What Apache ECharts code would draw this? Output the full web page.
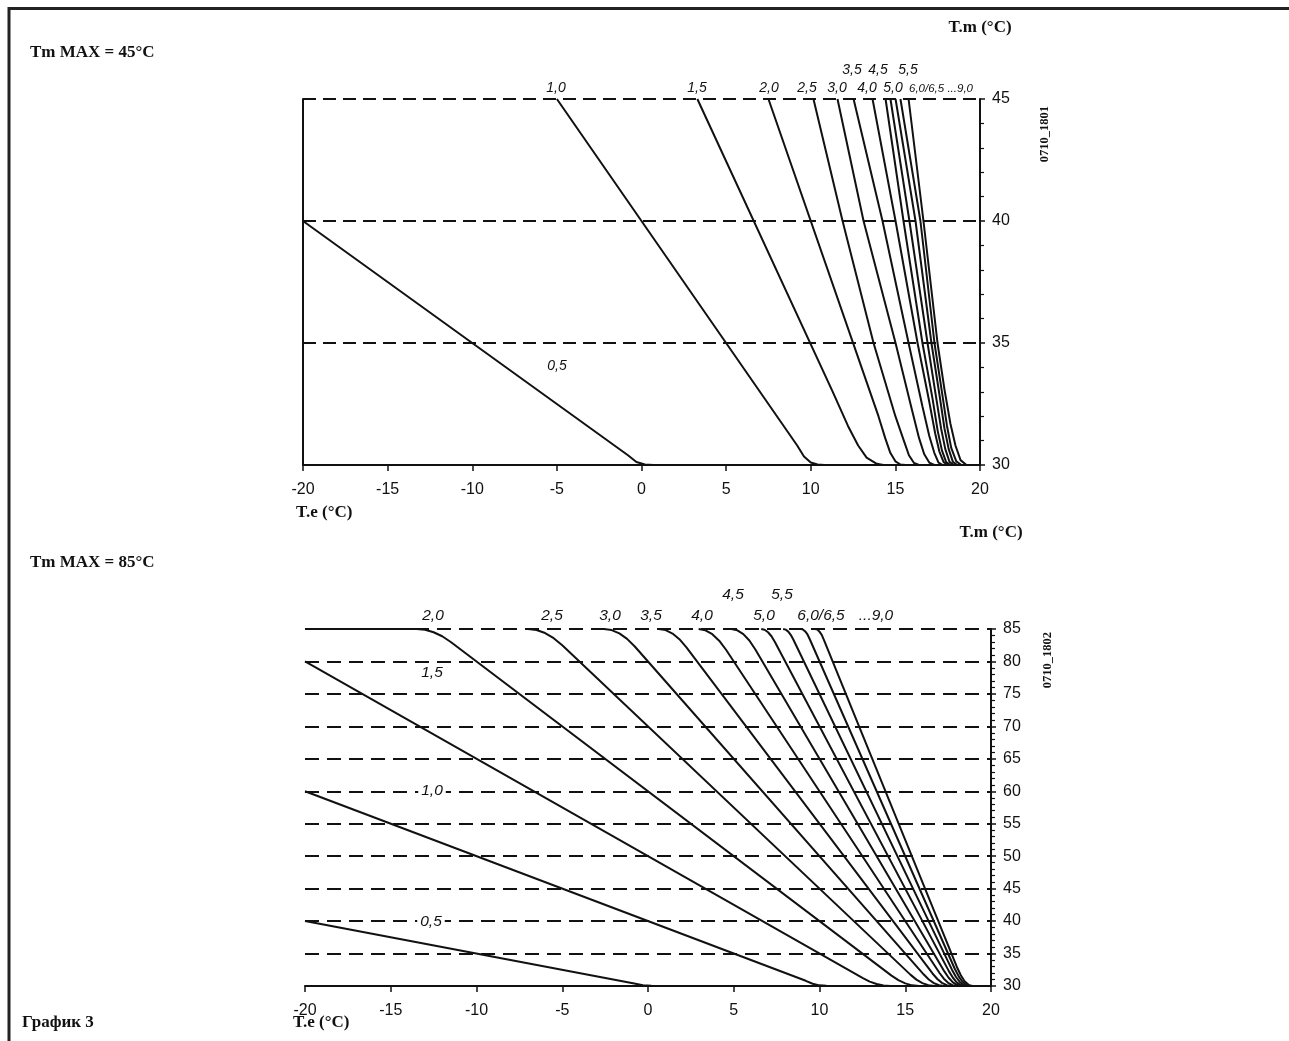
<!DOCTYPE html>
<html><head><meta charset="utf-8">
<script src="https://cdn.jsdelivr.net/npm/echarts@6/dist/echarts.min.js"></script>
<style>html,body{margin:0;padding:0;background:#fff}#c{width:1289px;height:1041px}</style>
</head><body><div id="c"></div>
<script>
// ---- Data (Te °C, Tm °C) ----
// Chart 1: Tm MAX = 45°C
const topCurveNames = ['0,5','1,0','1,5','2,0','2,5','3,0','3,5','4,0','4,5','5,0','5,5','6,0','6,5'];
const t05 = [[-20,40],[-0.8,30.4],[-0.3,30.12],[0.2,30.02],[0.7,30]];
const t10 = [[-5,45],[9.2,30.8],[9.6,30.35],[10,30.1],[10.4,30.02],[10.8,30]];
const t15 = [[3.3,45],[11.3,33],[12.2,31.6],[12.8,30.8],[13.3,30.3],[13.9,30.05],[14.3,30]];
const t20 = [[7.5,45],[14.0,32],[14.4,31.1],[14.7,30.5],[15.0,30.15],[15.3,30.02],[15.6,30]];
const t25 = [[10.16,45],[11.88,40],[13.71,35],[15.0,32],[15.5,31],[15.8,30.4],[16.1,30.08],[16.4,30]];
const t30 = [[11.58,45],[13.12,40],[15.01,35],[16.0,32.2],[16.4,31.1],[16.7,30.45],[17.0,30.1],[17.3,30]];
const t35 = [[12.53,45],[14.24,40],[15.78,35],[16.6,32.4],[17.0,31.2],[17.3,30.5],[17.55,30.1],[17.8,30]];
const t40 = [[13.65,45],[15.01,40],[16.31,35],[17.0,32.6],[17.35,31.3],[17.6,30.55],[17.85,30.12],[18.1,30]];
const t45 = [[14.42,45],[15.48,40],[16.6,35],[17.2,32.7],[17.5,31.4],[17.75,30.6],[18.0,30.12],[18.25,30]];
const t50 = [[14.71,45],[15.83,40],[16.9,35],[17.4,32.8],[17.7,31.5],[17.95,30.65],[18.2,30.13],[18.45,30]];
const t55 = [[15.01,45],[16.19,40],[17.13,35],[17.6,32.9],[17.9,31.5],[18.15,30.65],[18.4,30.13],[18.65,30]];
const t60 = [[15.30,45],[16.48,40],[17.31,35],[17.75,33],[18.05,31.6],[18.3,30.7],[18.6,30.15],[18.9,30]];
const t65 = [[15.78,45],[16.66,40],[17.49,35],[17.9,33.1],[18.25,31.7],[18.55,30.8],[18.85,30.2],[19.2,30]];
const topCurves = [t05,t10,t15,t20,t25,t30,t35,t40,t45,t50,t55,t60,t65];

// Chart 2: Tm MAX = 85°C
const bottomCurveNames = ['0,5','1,0','1,5','2,0','2,5','3,0','3,5','4,0','4,5','5,0','5,5','6,0','6,5'];
const b05 = [[-20,40],[-0.8,30.4],[-0.3,30.12],[0.2,30.02],[0.7,30]];
const b10 = [[-20,60],[9.2,30.8],[9.6,30.35],[10.0,30.1],[10.4,30.02],[10.8,30]];
const b15 = [[-20,80],[12.53,31.2],[12.93,30.68],[13.33,30.3],[13.73,30.08],[14.13,30]];
const b20 = [[-20,85],[-13.5,85],[-13,84.88],[-12.5,84.5],[-12,83.88],[-11.5,83],[14.2,31.6],[14.6,30.9],[15,30.4],[15.4,30.1],[15.8,30]];
const b25 = [[-7,85],[-6.5,84.84],[-6,84.38],[-5.5,83.59],[-5,82.5],[15.3,31.75],[15.65,30.98],[16,30.44],[16.35,30.11],[16.7,30]];
const b30 = [[-2.57,85],[-2.12,84.83],[-1.67,84.33],[-1.22,83.48],[-0.77,82.3],[16.07,31.8],[16.37,31.01],[16.67,30.45],[16.97,30.11],[17.27,30]];
const b35 = [[0.63,85],[1.03,84.83],[1.43,84.3],[1.83,83.43],[2.23,82.2],[16.59,31.93],[16.87,31.08],[17.14,30.48],[17.42,30.12],[17.69,30]];
const b40 = [[2.95,85],[3.35,84.8],[3.75,84.2],[4.15,83.2],[4.55,81.8],[17,32],[17.25,31.13],[17.5,30.5],[17.75,30.13],[18,30]];
const b45 = [[4.86,85],[5.21,84.8],[5.56,84.21],[5.91,83.23],[6.26,81.85],[17.28,32.25],[17.53,31.27],[17.78,30.56],[18.03,30.14],[18.28,30]];
const b50 = [[6.6,85],[6.8,84.88],[7,84.5],[7.2,83.88],[7.4,83],[17.55,32.25],[17.78,31.27],[18,30.56],[18.23,30.14],[18.45,30]];
const b55 = [[7.88,85],[8.03,84.9],[8.18,84.59],[8.33,84.07],[8.48,83.35],[17.73,32.48],[17.96,31.39],[18.18,30.62],[18.41,30.15],[18.63,30]];
const b60 = [[8.92,85],[9.05,84.9],[9.17,84.63],[9.3,84.16],[9.42,83.5],[17.88,32.7],[18.11,31.52],[18.33,30.68],[18.56,30.17],[18.78,30]];
const b65 = [[9.75,85],[9.88,84.9],[10,84.59],[10.13,84.09],[10.25,83.37],[18.01,32.93],[18.24,31.65],[18.46,30.73],[18.69,30.18],[18.91,30]];
const bottomCurves = [b05,b10,b15,b20,b25,b30,b35,b40,b45,b50,b55,b60,b65];

// Axis settings
const teMin = -20, teMax = 20, teStep = 5;
const top_tmMin = 30, top_tmMax = 45;
const bot_tmMin = 30, bot_tmMax = 85;
const tmStep = 5;

// Curve labels (text)
const topLabels = ['1,0','1,5','2,0','2,5','3,0','4,0','5,0','3,5','4,5','5,5','6,0/6,5 ...9,0','0,5'];
const bottomLabels = ['2,0','2,5','3,0','3,5','4,0','5,0','4,5','5,5','6,0/6,5','...9,0','1,5','1,0','0,5'];

// ---- Rendering ----
const chart = echarts.init(document.getElementById('c'), null, {renderer:'canvas'});
const SANS = '"Liberation Sans", Arial, sans-serif';
const SERIF = '"Liberation Serif", "Times New Roman", serif';
const INK = '#111';

function xAxisCfg(gi, margin){
  return {
    gridIndex: gi, type:'value', min: teMin, max: teMax, interval: teStep,
    axisLine:{show:true, onZero:false, lineStyle:{color:INK, width:2}},
    axisTick:{show:true, inside:false, length:6, lineStyle:{color:INK, width:1.5}},
    axisLabel:{color:INK, fontFamily:SANS, fontSize:16, margin:margin},
    splitLine:{show:false}
  };
}
function yAxisRight(gi, min, max, dash){
  return {
    gridIndex: gi, type:'value', position:'right', min, max, interval: tmStep,
    axisLine:{show:true, onZero:false, lineStyle:{color:INK, width:2}},
    axisTick:{show:true, inside:false, length:5, lineStyle:{color:INK, width:1.5}},
    minorTick:{show:true, splitNumber:5, length:4, lineStyle:{color:INK, width:1.2}},
    axisLabel:{color:INK, fontFamily:SANS, fontSize:16, margin:12},
    splitLine:{show:true, lineStyle:{color:INK, width:2, type:dash}},
    minorSplitLine:{show:false}
  };
}
function yAxisLeft(gi, min, max, showLine){
  return {
    gridIndex: gi, type:'value', position:'left', min, max, interval: tmStep,
    axisLine:{show:showLine, onZero:false, lineStyle:{color:INK, width:2}},
    axisTick:{show:false}, axisLabel:{show:false}, splitLine:{show:false}
  };
}

const series = [];
topCurves.forEach((d,i)=>series.push({
  name:'top '+topCurveNames[i], type:'line', xAxisIndex:0, yAxisIndex:0, data:d,
  symbol:'none', smooth:false, lineStyle:{color:INK, width:2}, z:3, silent:true
}));
bottomCurves.forEach((d,i)=>series.push({
  name:'bottom '+bottomCurveNames[i], type:'line', xAxisIndex:1, yAxisIndex:2, data:d,
  symbol:'none', smooth:false, lineStyle:{color:INK, width:2}, z:3, silent:true
}));

function txt(text, x, y, font, extra){
  return {type:'text', z:100, style:Object.assign({text, x, y, font, fill:INK, align:'center', verticalAlign:'middle'}, extra||{})};
}
const topPos = [[556,88],[697,88],[769,88],[807,88],[837,88],[867,88],[893,88],[852,70],[878,70],[908,70],[941,89],[557,366]];
const botPos = [[433,616],[552,616],[610,616],[651,616],[702,616],[764,616],[733,595],[782,595],[821,616],[876,616],[432,673],[432,791],[431,922]];
const graphics = [
  {type:'polyline', z:100, shape:{points:[[9,1041],[9,8.5],[1289,8.5]]}, style:{stroke:'#222', lineWidth:3, fill:null}},
  txt('Tm MAX = 45°C', 30, 53, 'bold 17px '+SERIF, {align:'left'}),
  txt('Tm MAX = 85°C', 30, 563, 'bold 17px '+SERIF, {align:'left'}),
  txt('График 3', 22, 1023, 'bold 17px '+SERIF, {align:'left'}),
  txt('T.m (°C)', 980, 28, 'bold 17px '+SERIF),
  txt('T.e (°C)', 296, 513, 'bold 17px '+SERIF, {align:'left'}),
  txt('T.m (°C)', 991, 533, 'bold 17px '+SERIF),
  txt('T.e (°C)', 293, 1023, 'bold 17px '+SERIF, {align:'left'}),
  {type:'text', z:100, x:1045, y:134, rotation:Math.PI/2, style:{text:'0710_1801', x:0, y:0, font:'bold 12.5px '+SERIF, fill:INK, align:'center', verticalAlign:'middle'}},
  {type:'text', z:100, x:1048, y:660, rotation:Math.PI/2, style:{text:'0710_1802', x:0, y:0, font:'bold 12.5px '+SERIF, fill:INK, align:'center', verticalAlign:'middle'}}
];
topLabels.forEach((t,i)=>{
  const f = t.length>5 ? 'italic 11.5px '+SANS : 'italic 14px '+SANS;
  graphics.push(txt(t, topPos[i][0], topPos[i][1], f));
});
bottomLabels.forEach((t,i)=>{
  const extra = (t==='1,0'||t==='0,5') ? {backgroundColor:'#fff', padding:[0,3]} : {};
  graphics.push(txt(t, botPos[i][0], botPos[i][1], 'italic 15.5px '+SANS, extra));
});

chart.setOption({
  animation:false,
  backgroundColor:'#fff',
  grid:[
    {left:303, top:99, width:677, height:366},
    {left:305, top:629, width:686, height:357}
  ],
  xAxis:[xAxisCfg(0, 17), xAxisCfg(1, 17)],
  yAxis:[
    yAxisRight(0, top_tmMin, top_tmMax, [13,7]),
    yAxisLeft(0, top_tmMin, top_tmMax, true),
    yAxisRight(1, bot_tmMin, bot_tmMax, [14,8]),
    yAxisLeft(1, bot_tmMin, bot_tmMax, false)
  ],
  series,
  graphic: graphics
});
</script></body></html>
